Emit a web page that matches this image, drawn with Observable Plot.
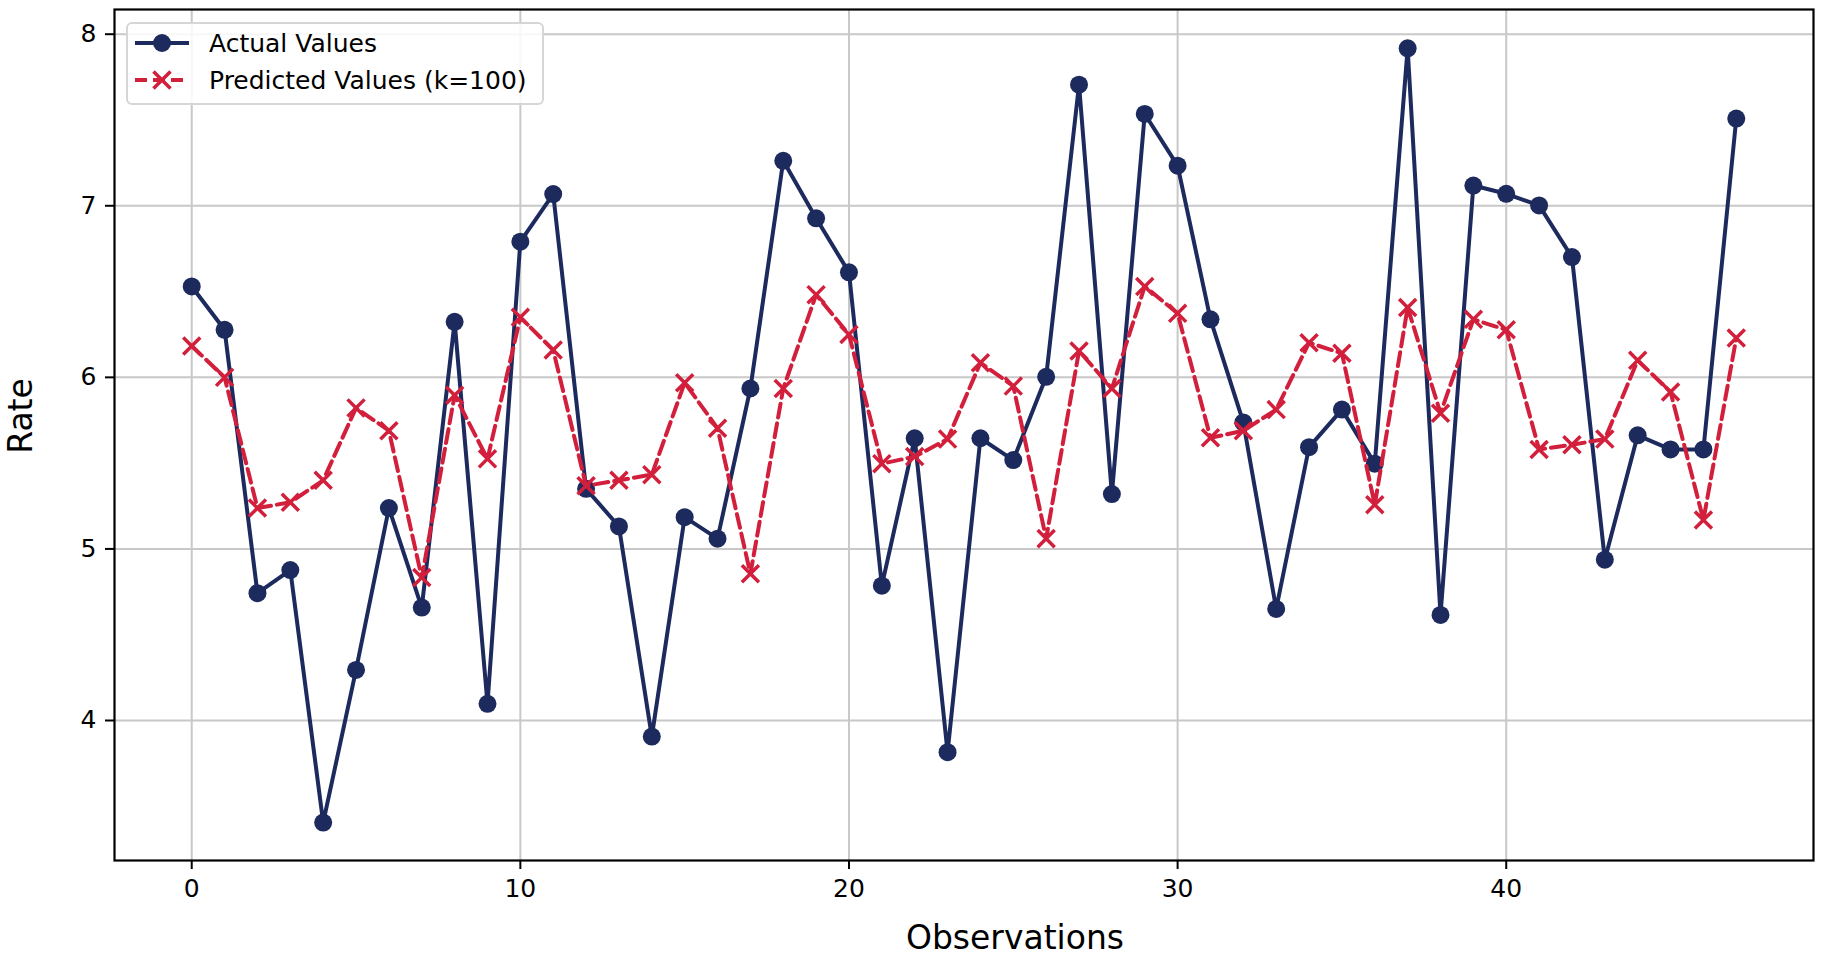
<!DOCTYPE html>
<html>
<head>
<meta charset="utf-8">
<script src="https://cdn.jsdelivr.net/npm/d3@7"></script>
<script src="https://cdn.jsdelivr.net/npm/@observablehq/plot@0.6"></script>
<style>
  html, body { margin: 0; padding: 0; background: #fff; }
  #chart svg { display: block; }
</style>
</head>
<body>
<div id="chart"></div>
<script>
// ---- data ----
const actualValues = [
  6.53, 6.277, 4.742, 4.877, 3.405, 4.295, 5.238, 4.658, 6.324, 4.097,
  6.791, 7.068, 5.35, 5.131, 3.906, 5.185, 5.06, 5.935, 7.262, 6.927,
  6.612, 4.786, 5.645, 3.815, 5.645, 5.518, 6.003, 7.706, 5.32, 7.535,
  7.234, 6.338, 5.737, 4.65, 5.593, 5.812, 5.497, 7.918, 4.615, 7.118,
  7.07, 7.002, 6.701, 4.937, 5.662, 5.58, 5.58, 7.508
];
const predictedValues = [
  6.183, 6.0, 5.238, 5.272, 5.4, 5.822, 5.689, 4.833, 5.896, 5.525,
  6.35, 6.159, 5.368, 5.4, 5.433, 5.969, 5.703, 4.855, 5.935, 6.482,
  6.25, 5.497, 5.538, 5.64, 6.085, 5.949, 5.06, 6.154, 5.935, 6.53,
  6.373, 5.648, 5.689, 5.812, 6.202, 6.14, 5.258, 6.407, 5.791, 6.338,
  6.277, 5.58, 5.607, 5.64, 6.099, 5.915, 5.169, 6.229
];
const xTicks = [0, 10, 20, 30, 40];
const yTicks = [4, 5, 6, 7, 8];
const seriesNames = ["Actual Values", "Predicted Values (k=100)"];
const xTitle = "Observations";
const yTitle = "Rate";

// ---- build ----
const navy = "#1c2a5e";
const red = "#d21f3c";
const font = "DejaVu Sans, sans-serif";

const actual = actualValues.map((v, i) => ({x: i, y: v}));
const predicted = predictedValues.map((v, i) => ({x: i, y: v}));

const W = 1834, H = 957;
const mL = 114, mR = 21, mT = 9, mB = 97;
const LW = 4, CR = 9, XR = 7.8, XW = 3.5, DASH = "14,6";

const chart = Plot.plot({
  width: W,
  height: H,
  marginLeft: mL,
  marginRight: mR,
  marginTop: mT,
  marginBottom: mB,
  style: {fontFamily: font, color: "#000", background: "#fff"},
  x: {domain: [-2.35, 49.35], ticks: xTicks},
  y: {domain: [3.184, 8.144], ticks: yTicks},
  marks: [
    Plot.gridX(xTicks, {stroke: "#c8c8c8", strokeOpacity: 1, strokeWidth: 2}),
    Plot.gridY(yTicks, {stroke: "#c8c8c8", strokeOpacity: 1, strokeWidth: 2}),
    Plot.axisX(xTicks, {tickSize: 9, tickPadding: 10, fontSize: 25, strokeWidth: 2, label: null, tickFormat: d => String(d)}),
    Plot.axisY(yTicks, {tickSize: 9, tickPadding: 9, fontSize: 25, strokeWidth: 2, label: null, tickFormat: d => String(d)}),
    Plot.line(actual, {x: "x", y: "y", stroke: navy, strokeWidth: LW}),
    Plot.dot(actual, {x: "x", y: "y", r: CR, fill: navy, stroke: null}),
    Plot.line(predicted, {x: "x", y: "y", stroke: red, strokeWidth: LW, strokeDasharray: DASH}),
    Plot.dot(predicted, {x: "x", y: "y", r: XR, symbol: "times", stroke: red, strokeWidth: XW}),
    Plot.frame({stroke: "#000", strokeWidth: 2.2})
  ]
});

const svg = d3.select(chart);

// axis titles
svg.append("text")
  .attr("x", 1015).attr("y", 949)
  .attr("text-anchor", "middle")
  .attr("font-family", font).attr("font-size", 33).attr("fill", "#000")
  .text(xTitle);
svg.append("text")
  .attr("transform", "translate(32,416) rotate(-90)")
  .attr("text-anchor", "middle")
  .attr("font-family", font).attr("font-size", 33).attr("fill", "#000")
  .text(yTitle);

// legend
const lg = svg.append("g").attr("text-anchor", "start");
lg.append("rect")
  .attr("x", 127).attr("y", 23).attr("width", 416).attr("height", 81)
  .attr("rx", 5).attr("fill", "#fff").attr("fill-opacity", 0.85)
  .attr("stroke", "#d6d6d6").attr("stroke-width", 2);
const rows = [
  {name: seriesNames[0], y: 43, color: navy, dash: null, sym: "circle"},
  {name: seriesNames[1], y: 80, color: red, dash: "12,6", sym: "times"}
];
rows.forEach(r => {
  lg.append("line")
    .attr("x1", 135).attr("x2", 189).attr("y1", r.y).attr("y2", r.y)
    .attr("stroke", r.color).attr("stroke-width", LW)
    .attr("stroke-dasharray", r.dash);
  if (r.sym === "circle") {
    lg.append("circle").attr("cx", 162).attr("cy", r.y).attr("r", CR).attr("fill", r.color);
  } else {
    lg.append("path")
      .attr("d", d3.symbol(d3.symbolTimes, Math.PI * XR * XR)())
      .attr("transform", `translate(162,${r.y})`)
      .attr("fill", "none").attr("stroke", r.color).attr("stroke-width", XW);
  }
  lg.append("text")
    .attr("x", 209).attr("y", r.y).attr("dy", "0.35em")
    .attr("text-anchor", "start")
    .attr("font-family", font).attr("font-size", 25).attr("fill", "#000")
    .text(r.name);
});

document.getElementById("chart").appendChild(chart);
</script>
</body>
</html>
